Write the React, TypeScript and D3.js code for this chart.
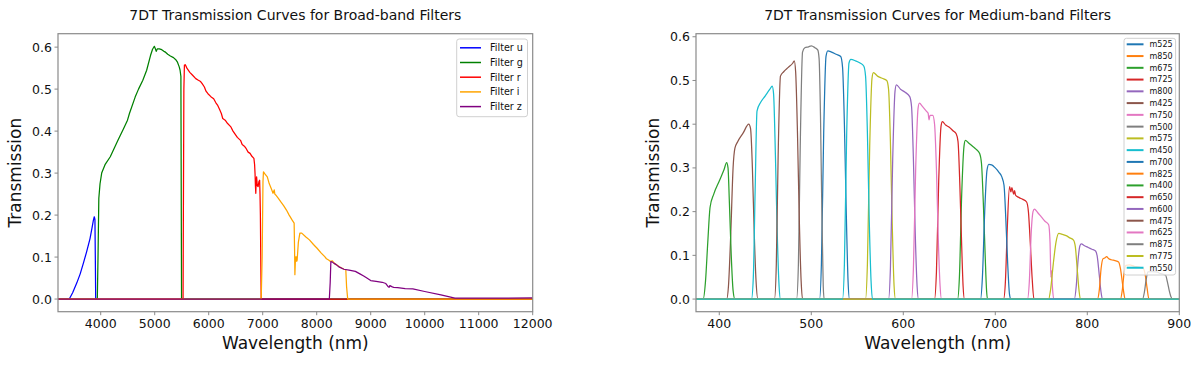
import React from "react";
import * as d3 from "d3";

type Pt = [number, number];

// ---------- text ----------
const broadTitle = "7DT Transmission Curves for Broad-band Filters";
const mediumTitle = "7DT Transmission Curves for Medium-band Filters";
const xLabel = "Wavelength (nm)";
const yLabel = "Transmission";

// ---------- ticks ----------
const broadXTicks = [4000, 5000, 6000, 7000, 8000, 9000, 10000, 11000, 12000];
const yTicks = [0, 0.1, 0.2, 0.3, 0.4, 0.5, 0.6];
const mediumXTicks = [400, 500, 600, 700, 800, 900];

// ---------- broad-band filters ----------
const broadNames = ["Filter u", "Filter g", "Filter r", "Filter i", "Filter z"];
const broadColors = ["blue", "green", "red", "orange", "purple"];

const filterU: Pt[] = [
  [3200, 0], [3418, 0], [3480, 0.015], [3556, 0.038], [3620, 0.06], [3678, 0.085], [3740, 0.113],
  [3802, 0.144], [3840, 0.17], [3863, 0.187], [3881, 0.196], [3893, 0.19], [3900, 0.1], [3907, 0], [12000, 0],
];
const filterG: Pt[] = [
  [3200, 0], [3937, 0], [3950, 0.1], [3965, 0.24], [3987, 0.274], [4018, 0.3], [4080, 0.32], [4177, 0.339],
  [4319, 0.378], [4420, 0.405], [4496, 0.426], [4532, 0.442], [4638, 0.481], [4700, 0.5], [4780, 0.521],
  [4851, 0.545], [4922, 0.58], [4960, 0.595], [4993, 0.602], [5010, 0.597], [5028, 0.59], [5050, 0.596],
  [5085, 0.596], [5130, 0.594], [5170, 0.59], [5200, 0.588], [5241, 0.583], [5290, 0.579], [5348, 0.575],
  [5390, 0.57], [5418, 0.565], [5454, 0.553], [5470, 0.545], [5485, 0.53], [5497, 0], [12000, 0],
];
const filterR: Pt[] = [
  [3200, 0], [5525, 0], [5540, 0.5], [5550, 0.557], [5567, 0.558], [5596, 0.55], [5650, 0.54], [5702, 0.533],
  [5760, 0.525], [5809, 0.521], [5850, 0.518], [5879, 0.513], [5920, 0.505], [5950, 0.495], [5986, 0.489],
  [6040, 0.482], [6092, 0.477], [6130, 0.468], [6163, 0.462], [6200, 0.452], [6234, 0.442], [6260, 0.43],
  [6305, 0.426], [6350, 0.418], [6411, 0.41], [6450, 0.4], [6482, 0.394], [6530, 0.385], [6589, 0.378],
  [6620, 0.368], [6660, 0.364], [6695, 0.358], [6730, 0.35], [6766, 0.347], [6800, 0.34], [6837, 0.335],
  [6850, 0.32], [6858, 0.299], [6865, 0.27], [6872, 0.252], [6880, 0.285], [6887, 0.291], [6900, 0.27],
  [6915, 0.268], [6930, 0.28], [6943, 0.283], [6950, 0.25], [6957, 0.2], [6965, 0.08], [6972, 0], [12000, 0],
];
const filterI: Pt[] = [
  [3200, 0], [6972, 0], [6990, 0.1], [7005, 0.28], [7014, 0.303], [7040, 0.298], [7085, 0.291], [7120, 0.275],
  [7156, 0.264], [7191, 0.252], [7213, 0.26], [7225, 0.25], [7241, 0.248], [7290, 0.24], [7333, 0.232],
  [7390, 0.222], [7440, 0.212], [7490, 0.2], [7546, 0.188], [7582, 0.181], [7590, 0.12], [7596, 0.058],
  [7605, 0.09], [7617, 0.101], [7630, 0.09], [7638, 0.093], [7660, 0.135], [7688, 0.157], [7723, 0.157],
  [7800, 0.148], [7865, 0.141], [7940, 0.13], [8007, 0.121], [8080, 0.11], [8149, 0.101], [8180, 0.096],
  [8220, 0.093], [8250, 0.09], [8291, 0.091], [8330, 0.085], [8362, 0.082], [8420, 0.077], [8504, 0.071],
  [8539, 0.07], [8553, 0.03], [8574, 0], [12000, 0],
];
const filterZ: Pt[] = [
  [3200, 0], [8234, 0], [8250, 0.04], [8262, 0.089], [8291, 0.088], [8320, 0.085], [8362, 0.082], [8420, 0.076],
  [8504, 0.071], [8600, 0.069], [8716, 0.066], [8800, 0.06], [8870, 0.055], [8929, 0.05], [9000, 0.044],
  [9100, 0.042], [9213, 0.04], [9280, 0.037], [9319, 0.03], [9340, 0.028], [9355, 0.032], [9400, 0.029],
  [9426, 0.028], [9500, 0.027], [9638, 0.025], [9780, 0.024], [10000, 0.018], [10300, 0.01], [10560, 0.002],
  [11000, 0.002], [11500, 0.002], [12000, 0.003],
];
const broadSeries = [filterU, filterG, filterR, filterI, filterZ];

// ---------- medium-band filters ----------
const m400: Pt[] = [[375, 0], [382.5, 0], [385, 0.04], [387.5, 0.13], [390, 0.21], [394, 0.24], [400, 0.27], [405, 0.295], [408, 0.312], [409.5, 0.3], [411, 0.22], [413, 0.1], [415, 0.02], [417, 0], [900, 0]];
const m425: Pt[] = [[375, 0], [408, 0], [410, 0.03], [412.5, 0.15], [415, 0.3], [417, 0.345], [420, 0.36], [426, 0.38], [432, 0.4], [434, 0.39], [436, 0.3], [438, 0.15], [440, 0.04], [442, 0], [900, 0]];
const m450: Pt[] = [[375, 0], [435, 0], [437, 0.05], [439, 0.25], [441, 0.43], [445, 0.45], [450, 0.465], [455, 0.48], [457.5, 0.487], [459, 0.47], [461, 0.33], [463, 0.15], [465, 0.03], [466.5, 0], [900, 0]];
const m475: Pt[] = [[375, 0], [460, 0], [462, 0.08], [464, 0.33], [466.5, 0.51], [470, 0.52], [475, 0.53], [480, 0.54], [481.5, 0.545], [483, 0.52], [485, 0.38], [487, 0.18], [489, 0.04], [490.5, 0], [900, 0]];
const m500: Pt[] = [[375, 0], [484, 0], [486, 0.08], [488, 0.35], [490.5, 0.565], [493, 0.575], [497, 0.577], [500, 0.579], [504, 0.575], [507, 0.57], [508.5, 0.55], [510, 0.42], [511.5, 0.2], [513, 0.03], [514, 0], [900, 0]];
const m525: Pt[] = [[375, 0], [509, 0], [511, 0.08], [513.5, 0.38], [516, 0.555], [518, 0.568], [522, 0.565], [527, 0.56], [532, 0.555], [534, 0.53], [536, 0.4], [538, 0.2], [540, 0.04], [541.5, 0], [900, 0]];
const m550: Pt[] = [[375, 0], [534, 0], [536, 0.08], [538.5, 0.38], [541, 0.54], [543, 0.548], [548, 0.545], [553, 0.54], [557, 0.533], [559, 0.51], [561, 0.38], [563, 0.18], [565, 0.04], [566.5, 0], [900, 0]];
const m575: Pt[] = [[375, 0], [559, 0], [561, 0.08], [563.5, 0.35], [566, 0.505], [567.5, 0.518], [572, 0.51], [577, 0.505], [582, 0.5], [584, 0.48], [586, 0.36], [588, 0.17], [590, 0.03], [591.5, 0], [900, 0]];
const m600: Pt[] = [[375, 0], [584, 0], [586, 0.07], [588.5, 0.32], [591, 0.475], [592.5, 0.49], [597, 0.48], [602, 0.473], [607, 0.463], [609, 0.44], [611, 0.32], [613, 0.15], [615, 0.03], [616.5, 0], [900, 0]];
const m625: Pt[] = [[375, 0], [609, 0], [611, 0.07], [613.5, 0.3], [616, 0.435], [617.5, 0.448], [621, 0.44], [625, 0.43], [627, 0.425], [628, 0.41], [629, 0.42], [632, 0.42], [634, 0.4], [636, 0.3], [638, 0.14], [640, 0.03], [641.5, 0], [900, 0]];
const m650: Pt[] = [[375, 0], [634, 0], [636, 0.06], [638.5, 0.27], [641, 0.395], [642.5, 0.406], [646, 0.398], [650, 0.393], [654, 0.385], [657.5, 0.378], [659.5, 0.36], [661.5, 0.26], [663.5, 0.12], [665, 0.03], [666.5, 0], [900, 0]];
const m675: Pt[] = [[375, 0], [659, 0], [661, 0.05], [663.5, 0.24], [666, 0.35], [667.5, 0.363], [671, 0.357], [675, 0.35], [679, 0.343], [683, 0.333], [685, 0.31], [687, 0.22], [689, 0.1], [690.5, 0.02], [691.5, 0], [900, 0]];
const m700: Pt[] = [[375, 0], [684, 0], [686, 0.05], [688.5, 0.2], [691, 0.295], [693, 0.308], [696, 0.307], [700, 0.3], [704, 0.29], [707, 0.28], [709.5, 0.26], [711.5, 0.18], [713.5, 0.08], [715.5, 0.01], [717, 0], [900, 0]];
const m725: Pt[] = [[375, 0], [709, 0], [711, 0.04], [713, 0.16], [715.5, 0.257], [717, 0.245], [718, 0.255], [720, 0.24], [721, 0.248], [722, 0.238], [726, 0.232], [730, 0.228], [734, 0.222], [736, 0.2], [738, 0.13], [740, 0.05], [742, 0], [900, 0]];
const m750: Pt[] = [[375, 0], [735, 0], [737, 0.04], [739, 0.15], [741, 0.2], [742.5, 0.206], [746, 0.198], [750, 0.188], [754, 0.178], [758, 0.17], [759.5, 0.13], [760.5, 0.05], [761, 0.065], [762, 0.03], [763.5, 0], [900, 0]];
const m775: Pt[] = [[375, 0], [758, 0], [760, 0.02], [763, 0.08], [766, 0.13], [769, 0.15], [773, 0.148], [777, 0.145], [781, 0.14], [785, 0.135], [787, 0.12], [789, 0.07], [791, 0.02], [792.5, 0], [900, 0]];
const m800: Pt[] = [[375, 0], [786, 0], [788, 0.03], [790, 0.09], [792, 0.122], [793.5, 0.126], [797, 0.122], [801, 0.118], [805, 0.114], [809, 0.11], [811, 0.095], [813, 0.055], [815, 0.015], [816.5, 0], [900, 0]];
const m825: Pt[] = [[375, 0], [811, 0], [813, 0.02], [815, 0.07], [817, 0.092], [819, 0.094], [821, 0.097], [823, 0.093], [826, 0.09], [830, 0.088], [834, 0.085], [836, 0.07], [838, 0.04], [840, 0.01], [841, 0], [900, 0]];
const m850: Pt[] = [[375, 0], [836, 0], [838, 0.02], [840, 0.06], [842, 0.077], [846, 0.078], [851, 0.075], [856, 0.073], [861, 0.07], [863, 0.055], [865, 0.025], [867, 0], [900, 0]];
const m875: Pt[] = [[375, 0], [860, 0], [862, 0.015], [864, 0.045], [866, 0.062], [870, 0.063], [875, 0.062], [880, 0.058], [885, 0.055], [887, 0.04], [889, 0.02], [891, 0.005], [892.5, 0], [900, 0]];

// plotting (and legend) order
const mediumNames = ["m525", "m850", "m675", "m725", "m800", "m425", "m750", "m500", "m575", "m450",
  "m700", "m825", "m400", "m650", "m600", "m475", "m625", "m875", "m775", "m550"];
const mediumSeries = [m525, m850, m675, m725, m800, m425, m750, m500, m575, m450,
  m700, m825, m400, m650, m600, m475, m625, m875, m775, m550];
const tab10 = d3.schemeCategory10;

// ---------- layout ----------
const FONT = "DejaVu Sans, Verdana, sans-serif";
const TOP = 33.7;
const BOTTOM = 311.7;
const SPINE = "#8a8a8a";

type Legend = {
  x: number; y: number; w: number; h: number;
  row0: number; rowStep: number; lineX0: number; lineX1: number; textX: number;
  font: number; lw: number;
};

type PanelProps = {
  id: string;
  x0: number; x1: number;
  xDomain: [number, number];
  yDomain: [number, number];
  xTicks: number[];
  title: string;
  yLabelX: number;
  names: string[];
  colors: string[];
  series: Pt[][];
  smooth: boolean;
  legend: Legend;
};

function Panel(p: PanelProps) {
  const x = d3.scaleLinear().domain(p.xDomain).range([p.x0, p.x1]);
  const y = d3.scaleLinear().domain(p.yDomain).range([BOTTOM, TOP]);
  const line = d3
    .line<Pt>()
    .x((d) => x(d[0]))
    .y((d) => y(d[1]))
    .curve(p.smooth ? d3.curveMonotoneX : d3.curveLinear);
  const cx = (p.x0 + p.x1) / 2;
  const cy = (TOP + BOTTOM) / 2;
  const L = p.legend;
  return (
    <g>
      <defs>
        <clipPath id={p.id}>
          <rect x={p.x0} y={TOP} width={p.x1 - p.x0} height={BOTTOM - TOP} />
        </clipPath>
      </defs>
      <g clipPath={`url(#${p.id})`}>
        {p.series.map((s, i) => (
          <path key={i} d={line(s) || ""} fill="none" stroke={p.colors[i]} strokeWidth={1.25} strokeLinejoin="round" />
        ))}
      </g>
      <rect x={p.x0} y={TOP} width={p.x1 - p.x0} height={BOTTOM - TOP} fill="none" stroke={SPINE} strokeWidth={1.2} />
      {p.xTicks.map((t) => (
        <g key={"x" + t}>
          <line x1={x(t)} x2={x(t)} y1={BOTTOM} y2={BOTTOM + 3.5} stroke={SPINE} strokeWidth={1} />
          <text x={x(t)} y={327.5} fontSize={12.5} textAnchor="middle" fontFamily={FONT} fill="#111">
            {String(t)}
          </text>
        </g>
      ))}
      {yTicks.map((t) => (
        <g key={"y" + t}>
          <line x1={p.x0 - 3.5} x2={p.x0} y1={y(t)} y2={y(t)} stroke={SPINE} strokeWidth={1} />
          <text x={p.x0 - 6} y={y(t) + 4.5} fontSize={12.5} textAnchor="end" fontFamily={FONT} fill="#111">
            {t.toFixed(1)}
          </text>
        </g>
      ))}
      <text x={cx} y={20} fontSize={14} textAnchor="middle" fontFamily={FONT} fill="#111">
        {p.title}
      </text>
      <text x={cx} y={349} fontSize={17} textAnchor="middle" fontFamily={FONT} fill="#111">
        {xLabel}
      </text>
      <text
        transform={`translate(${p.yLabelX},${cy}) rotate(-90)`}
        fontSize={17}
        textAnchor="middle"
        fontFamily={FONT}
        fill="#111"
      >
        {yLabel}
      </text>
      <rect x={L.x} y={L.y} width={L.w} height={L.h} rx={2.5} fill="white" fillOpacity={0.8} stroke="#d0d0d0" strokeWidth={1} />
      {p.names.map((n, i) => {
        const ry = L.row0 + L.rowStep * i;
        return (
          <g key={n}>
            <line x1={L.lineX0} x2={L.lineX1} y1={ry} y2={ry} stroke={p.colors[i]} strokeWidth={L.lw} />
            <text x={L.textX} y={ry + L.font * 0.36} fontSize={L.font} fontFamily={FONT} fill="#111">
              {n}
            </text>
          </g>
        );
      })}
    </g>
  );
}

export default function App() {
  const mediumColors = mediumNames.map((_, i) => tab10[i % 10]);
  return (
    <svg
      width={1200}
      height={367}
      viewBox="0 0 1200 367"
      style={{ position: "absolute", left: 0, top: 0, background: "white" }}
    >
      <rect x={0} y={0} width={1200} height={367} fill="white" />
      <Panel
        id="clipBroad"
        x0={58}
        x1={532.7}
        xDomain={[3209, 12000]}
        yDomain={[-0.0301, 0.632]}
        xTicks={broadXTicks}
        title={broadTitle}
        yLabelX={21}
        names={broadNames}
        colors={broadColors}
        series={broadSeries}
        smooth={false}
        legend={{ x: 456.7, y: 39, w: 70.8, h: 77.7, row0: 47.8, rowStep: 14.7, lineX0: 460, lineX1: 481, textX: 490, font: 9.6, lw: 1.5 }}
      />
      <Panel
        id="clipMedium"
        x0={696}
        x1={1179.3}
        xDomain={[374.7, 900]}
        yDomain={[-0.0289, 0.607]}
        xTicks={mediumXTicks}
        title={mediumTitle}
        yLabelX={658.5}
        names={mediumNames}
        colors={mediumColors}
        series={mediumSeries}
        smooth={true}
        legend={{ x: 1124, y: 38.3, w: 51.6, h: 236.7, row0: 44.3, rowStep: 11.76, lineX0: 1126.7, lineX1: 1143.5, textX: 1149.5, font: 8, lw: 2 }}
      />
    </svg>
  );
}
